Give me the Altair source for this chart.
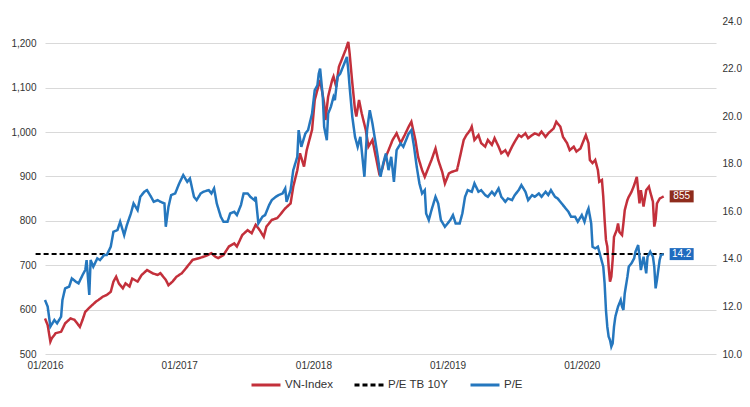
import altair as alt
import pandas as pd

# ---------------- data (decimal year, value) ----------------
vn_t = [2016.00, 2016.02, 2016.04, 2016.05, 2016.08, 2016.12, 2016.15, 2016.19, 2016.22, 2016.24,
        2016.26, 2016.28, 2016.30, 2016.34, 2016.38, 2016.40, 2016.43, 2016.46, 2016.49, 2016.51,
        2016.53, 2016.55, 2016.58, 2016.60, 2016.63, 2016.65, 2016.69, 2016.72, 2016.76, 2016.80,
        2016.84, 2016.86, 2016.90, 2016.92, 2016.95, 2016.98,
        2017.02, 2017.05, 2017.10, 2017.15, 2017.20, 2017.24, 2017.27, 2017.29, 2017.33, 2017.37,
        2017.41, 2017.43, 2017.47, 2017.51, 2017.54, 2017.57, 2017.60, 2017.63, 2017.65, 2017.69,
        2017.73, 2017.75, 2017.79, 2017.83, 2017.85, 2017.88, 2017.90, 2017.93, 2017.95, 2017.99,
        2018.01, 2018.03, 2018.05, 2018.08, 2018.09, 2018.11, 2018.14, 2018.15, 2018.17, 2018.19,
        2018.21, 2018.24, 2018.26, 2018.27, 2018.29, 2018.31, 2018.32, 2018.34, 2018.36, 2018.39,
        2018.41, 2018.44, 2018.46, 2018.49, 2018.51, 2018.53, 2018.56, 2018.59, 2018.62, 2018.65,
        2018.68, 2018.71, 2018.73, 2018.76, 2018.78, 2018.81, 2018.83, 2018.86, 2018.88, 2018.91,
        2018.93, 2018.96, 2018.98,
        2019.01, 2019.03, 2019.07, 2019.09, 2019.12, 2019.14, 2019.17, 2019.18, 2019.20, 2019.23,
        2019.25, 2019.28, 2019.30, 2019.33, 2019.35, 2019.38, 2019.40, 2019.43, 2019.45, 2019.48,
        2019.50, 2019.53, 2019.55, 2019.58, 2019.60, 2019.63, 2019.65, 2019.68, 2019.70, 2019.73,
        2019.75, 2019.79, 2019.81, 2019.84, 2019.86, 2019.89, 2019.91, 2019.94, 2019.96, 2019.99,
        2020.01, 2020.03, 2020.05, 2020.06, 2020.08, 2020.10, 2020.12, 2020.13, 2020.15, 2020.16,
        2020.17, 2020.18, 2020.19, 2020.20, 2020.21, 2020.22, 2020.23, 2020.24, 2020.26, 2020.27,
        2020.28, 2020.30, 2020.31, 2020.32, 2020.34, 2020.35, 2020.37, 2020.39, 2020.41, 2020.42,
        2020.43, 2020.44, 2020.46, 2020.48, 2020.50, 2020.51, 2020.53, 2020.54, 2020.55, 2020.56,
        2020.58, 2020.61]
vn_v = [580, 565, 528, 535, 547, 550, 569, 580, 577, 569,
        561, 577, 595, 607, 618, 622, 629, 633, 640, 663,
        674, 659, 648, 659, 652, 670, 663, 678, 689, 682,
        678, 682, 667, 655, 663, 674,
        682, 693, 712, 716, 721, 727, 719, 716, 723, 742,
        749, 742, 768, 779, 772, 791, 779, 764, 787, 802,
        806, 813, 828, 839, 877, 914, 952, 922, 959, 1005,
        1072, 1095, 1117, 1065, 1027, 1080, 1117, 1125, 1102, 1147,
        1162, 1185, 1203, 1177, 1110, 1050, 1035, 1072, 1042, 1005,
        967, 982, 952, 907, 914, 937, 959, 982, 997, 975,
        993, 1012, 1023, 982, 944, 914, 899, 922, 937, 963,
        937, 910, 884,
        907, 910, 914, 941, 982, 993, 1005, 1012, 982, 993,
        975, 967, 982, 971, 986, 967, 952, 959, 948, 967,
        978, 993, 989, 997, 986, 993, 997, 993, 1001, 989,
        997, 1008, 1023, 1012, 989, 975, 959, 967, 956, 963,
        978, 993, 975, 937, 930, 937, 914, 888, 892, 854,
        802, 757, 742, 697, 663, 674, 712, 764, 779, 794,
        775, 768, 794, 824, 847, 854, 865, 880, 899, 869,
        839, 869, 832, 869, 877, 865, 843, 787, 802, 839,
        850, 855]

pe_t = [2016.00, 2016.02, 2016.04, 2016.07, 2016.09, 2016.12, 2016.13, 2016.15, 2016.18, 2016.20,
        2016.23, 2016.25, 2016.28, 2016.30, 2016.31, 2016.33, 2016.34, 2016.36, 2016.39, 2016.41,
        2016.44, 2016.46, 2016.49, 2016.51, 2016.54, 2016.56, 2016.59, 2016.61, 2016.64, 2016.66,
        2016.69, 2016.71, 2016.74, 2016.76, 2016.79, 2016.81, 2016.84, 2016.86, 2016.89, 2016.90,
        2016.92, 2016.94, 2016.97,
        2017.00, 2017.03, 2017.06, 2017.08, 2017.11, 2017.13, 2017.16, 2017.18, 2017.22, 2017.24,
        2017.26, 2017.28, 2017.31, 2017.33, 2017.36, 2017.38, 2017.41, 2017.43, 2017.46, 2017.48,
        2017.51, 2017.53, 2017.56, 2017.57, 2017.59, 2017.62, 2017.64, 2017.67, 2017.69, 2017.72,
        2017.74, 2017.77, 2017.79, 2017.80, 2017.83, 2017.85, 2017.88, 2017.89, 2017.91, 2017.94,
        2017.96, 2017.99,
        2018.01, 2018.03, 2018.04, 2018.05, 2018.07, 2018.08, 2018.10, 2018.11, 2018.13, 2018.15,
        2018.16, 2018.18, 2018.20, 2018.22, 2018.25, 2018.26, 2018.27, 2018.29, 2018.31, 2018.33,
        2018.35, 2018.36, 2018.38, 2018.40, 2018.42, 2018.44, 2018.46, 2018.48, 2018.50, 2018.52,
        2018.54, 2018.56, 2018.58, 2018.60, 2018.62, 2018.65, 2018.67, 2018.69, 2018.71, 2018.73,
        2018.75, 2018.77, 2018.79, 2018.81, 2018.83, 2018.84, 2018.86, 2018.88, 2018.91, 2018.93,
        2018.95, 2018.98,
        2019.02, 2019.04, 2019.06, 2019.09, 2019.11, 2019.13, 2019.15, 2019.18, 2019.20, 2019.23,
        2019.25, 2019.28, 2019.30, 2019.33, 2019.35, 2019.38, 2019.40, 2019.43, 2019.45, 2019.48,
        2019.50, 2019.53, 2019.55, 2019.58, 2019.60, 2019.63, 2019.65, 2019.68, 2019.70, 2019.73,
        2019.75, 2019.77, 2019.80, 2019.82, 2019.85, 2019.87, 2019.90, 2019.92, 2019.95, 2019.97,
        2020.00, 2020.02, 2020.04, 2020.05, 2020.07, 2020.08, 2020.10, 2020.12, 2020.14, 2020.16,
        2020.17, 2020.18, 2020.19, 2020.20, 2020.21, 2020.22, 2020.23, 2020.24, 2020.25, 2020.27,
        2020.29, 2020.30, 2020.31, 2020.32, 2020.34, 2020.35, 2020.37, 2020.39, 2020.40, 2020.42,
        2020.43, 2020.44, 2020.46, 2020.48, 2020.49, 2020.51, 2020.53, 2020.54, 2020.55, 2020.56,
        2020.58, 2020.59, 2020.61]
pe_v = [12.27, 11.99, 11.15, 11.43, 11.29, 11.57, 12.27, 12.76, 12.83, 13.18,
        13.04, 12.97, 13.32, 13.53, 13.95, 12.48, 13.95, 13.67, 14.02, 13.95,
        14.16, 14.16, 14.51, 15.14, 15.21, 15.56, 15.00, 15.42, 15.91, 16.33,
        16.05, 16.61, 16.82, 16.89, 16.61, 16.40, 16.47, 16.40, 16.33, 15.35,
        16.19, 16.68, 16.75,
        17.17, 17.52, 17.24, 17.38, 16.61, 16.47, 16.75, 16.82, 16.89, 16.75,
        16.96, 16.33, 15.77, 15.56, 15.56, 15.91, 15.98, 15.84, 16.26, 16.75,
        16.75, 16.61, 16.47, 16.61, 15.49, 15.77, 15.84, 16.26, 16.47, 16.61,
        16.68, 16.75, 16.96, 16.40, 16.89, 17.73, 18.29, 19.41, 18.71, 19.27,
        19.41, 20.11,
        21.09, 21.30, 21.79, 22.00, 20.81, 19.55, 18.99, 20.11, 20.39, 20.81,
        20.67, 21.65, 21.79, 22.07, 22.49, 21.93, 21.23, 19.97, 19.13, 18.71,
        19.13, 18.57, 17.45, 19.41, 20.25, 19.69, 18.99, 18.29, 17.45, 18.01,
        18.43, 17.73, 18.29, 17.24, 18.57, 18.85, 18.71, 18.99, 19.27, 19.41,
        18.71, 17.87, 17.17, 16.75, 16.89, 15.91, 15.63, 16.05, 16.61, 16.33,
        15.63, 15.35,
        15.63, 15.84, 15.49, 15.49, 15.91, 16.61, 16.89, 16.82, 17.17, 16.82,
        16.89, 16.68, 16.61, 16.82, 16.68, 16.96, 16.61, 16.40, 16.54, 16.47,
        16.68, 16.89, 17.10, 16.82, 16.47, 16.68, 16.61, 16.75, 16.61, 16.82,
        16.68, 16.89, 16.61, 16.54, 16.33, 16.19, 15.98, 15.77, 15.77, 15.56,
        15.84, 15.56, 15.98, 16.12, 15.49, 14.51, 14.44, 14.51, 14.09, 13.67,
        12.97, 11.85, 11.15, 10.73, 10.59, 10.31, 10.45, 11.15, 11.57, 11.99,
        12.27, 11.99, 11.85, 12.55, 13.25, 13.67, 13.81, 14.02, 14.30, 14.58,
        14.09, 13.53, 14.09, 13.39, 14.09, 14.30, 14.09, 13.67, 12.76, 13.11,
        13.95, 14.16, 14.20]

ref_t = [2015.93, 2020.61]
ref_v = [14.2, 14.2]

SERIES = ["VN-Index", "P/E TB 10Y", "P/E"]
COLORS = ["#C3303B", "#000000", "#2577BE"]
DASHES = [[1, 0], [5, 3], [1, 0]]
YEAR_TICKS = [2016, 2017, 2018, 2019, 2020]
LEFT_TICKS = [500, 600, 700, 800, 900, 1000, 1100, 1200]
RIGHT_TICKS = [10, 12, 14, 16, 18, 20, 22, 24]

FONT = "Liberation Sans"

vn_df = pd.DataFrame({"t": vn_t, "v": vn_v, "series": "VN-Index"})
pe_df = pd.DataFrame({"t": pe_t, "v": pe_v, "series": "P/E"})
ref_df = pd.DataFrame({"t": ref_t, "v": ref_v, "series": "P/E TB 10Y"})
vn_last = vn_df.tail(1).assign(label=lambda d: d["v"].map(lambda x: f"{x:.0f}"))
pe_last = pe_df.tail(1).assign(label=lambda d: d["v"].map(lambda x: f"{x:.1f}"))

x_enc = alt.X("t:Q",
              scale=alt.Scale(domain=[2016, 2021], nice=False, zero=False),
              axis=alt.Axis(values=YEAR_TICKS, labelExpr="'01/' + datum.value",
                            title=None, grid=False, domain=False, ticks=False,
                            labelPadding=6, labelFlush=False))

y_left = alt.Y("v:Q",
               scale=alt.Scale(domain=[500, 1250], nice=False, zero=False),
               axis=alt.Axis(values=LEFT_TICKS, format=",.0f", title=None, grid=True,
                             gridColor="#D9D9D9", gridWidth=1, domain=False,
                             ticks=False, labelPadding=9))

y_right = alt.Y("v:Q",
                scale=alt.Scale(domain=[10, 24], nice=False, zero=False),
                axis=alt.Axis(orient="right", values=RIGHT_TICKS, format=".1f",
                              title=None, grid=False, domain=False, ticks=False,
                              labelPadding=6))

legend_kw = dict(title=None, orient="none", legendX=205, legendY=348,
                 direction="horizontal", gridAlign="none",
                 labelFontSize=11.5, labelFont=FONT, labelColor="#333333",
                 symbolType="stroke", symbolSize=841, symbolStrokeWidth=3,
                 labelOffset=3, columnPadding=15, padding=0)

color_enc = alt.Color("series:N", scale=alt.Scale(domain=SERIES, range=COLORS),
                      legend=alt.Legend(**legend_kw))
dash_enc = alt.StrokeDash("series:N", scale=alt.Scale(domain=SERIES, range=DASHES),
                          legend=alt.Legend(**legend_kw))

red_line = alt.Chart(vn_df).mark_line(strokeWidth=2.5).encode(
    x=x_enc, y=y_left, color=color_enc, strokeDash=dash_enc)
red_box = alt.Chart(vn_last).mark_rect(
    color="#8E2C1C", xOffset=6, x2Offset=30, yOffset=-6, y2Offset=6).encode(
    x=x_enc, x2="t:Q", y=y_left, y2="v:Q")
red_text = alt.Chart(vn_last).mark_text(
    color="white", fontSize=10, font=FONT, dx=18, align="center", baseline="middle").encode(
    x=x_enc, y=y_left, text="label:N")

ref_line = alt.Chart(ref_df).mark_line(strokeWidth=2).encode(
    x=x_enc, y=y_right, color=color_enc, strokeDash=dash_enc)
blue_line = alt.Chart(pe_df).mark_line(strokeWidth=2.5).encode(
    x=x_enc, y=y_right, color=color_enc, strokeDash=dash_enc)
blue_box = alt.Chart(pe_last).mark_rect(
    color="#1F6BBF", xOffset=6, x2Offset=30, yOffset=-6, y2Offset=6).encode(
    x=x_enc, x2="t:Q", y=y_right, y2="v:Q")
blue_text = alt.Chart(pe_last).mark_text(
    color="white", fontSize=10, font=FONT, dx=18, align="center", baseline="middle").encode(
    x=x_enc, y=y_right, text="label:N")

left = alt.layer(red_line, red_box, red_text)
right = alt.layer(ref_line, blue_line, blue_box, blue_text)

chart = alt.layer(left, right).resolve_scale(y="independent").properties(
    width=671, height=333,
    autosize=alt.AutoSizeParams(type="none"),
    padding={"left": 45, "top": 21, "right": 34, "bottom": 53},
    background="white",
).configure_view(stroke=None).configure_axis(
    labelFont=FONT, labelFontSize=10, labelColor="#333333"
)

chart.save("out.html", embed_options={"renderer": "svg", "actions": False})
